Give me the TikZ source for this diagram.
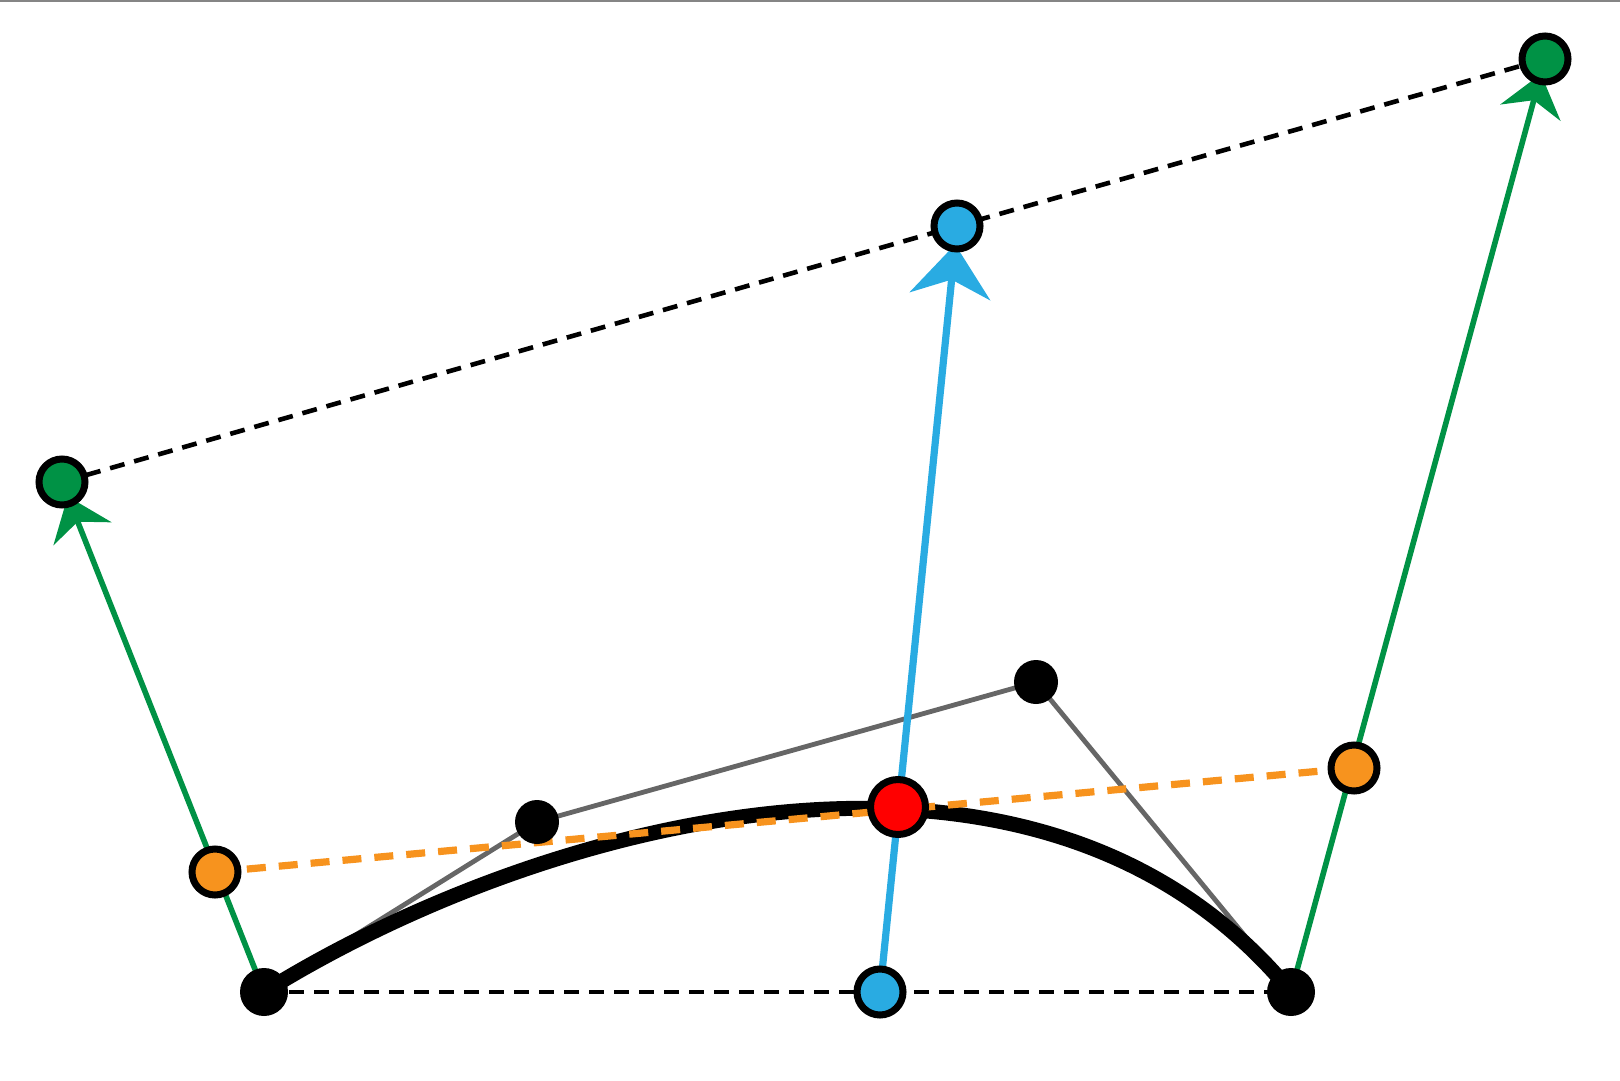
\documentclass[tikz,border=0pt]{standalone}
\usepackage{xcolor}
\usepackage{tikz}
\usetikzlibrary{arrows.meta,backgrounds}
\definecolor{hdlgreen}{HTML}{009245}
\definecolor{hdlblue}{HTML}{29ABE2}
\definecolor{midorange}{HTML}{F7931E}
\definecolor{polygray}{HTML}{666666}

\begin{document}
\begin{tikzpicture}[x=0.5pt, y=-0.5pt,
  dot/.style={circle, fill=black, inner sep=0pt, minimum size=#1},
  dot/.default=22pt,
  knob/.style={circle, draw=black, line width=3.5pt, fill=#1, inner sep=0pt, minimum size=23pt},
  guide/.style={dashed, dash pattern=on 7.5pt off 5pt, line width=2.3pt},
  a/.style={-{Stealth[length=#1, width=1.55*#1, inset=0.32*#1]}}]
\useasboundingbox (0,0) rectangle (1620,1080);
\draw[polygray!80, line width=1.2pt] (0,1) -- (1620,1);
% curve end points and handles
\node[dot=24pt] (P0) at (264,992) {};
\node[dot=22pt] (P1) at (537,822) {};
\node[dot=22pt] (P2) at (1036,682) {};
\node[dot=24pt] (P3) at (1291,992) {};
% point on the curve and its drag handles
\node[knob=hdlblue] (Bb) at (880,992) {};
\node[knob=midorange] (Ol) at (215,872) {};
\node[knob=midorange] (Or) at (1354,768) {};
\node[knob=hdlgreen] (Gl) at (62,482) {};
\node[knob=hdlgreen] (Gr) at (1545,59) {};
\node[knob=hdlblue] (Bt) at (957,226) {};
\node[circle, draw=black, line width=3.5pt, fill=red, inner sep=0pt, minimum size=27.5pt] (R) at (898,807) {};
\begin{scope}[on background layer]
\draw[guide] (P0.center) -- (Bb.center) -- (P3.center);
\draw[guide] (Gl.center) -- (Bt.center) -- (Gr.center);
\draw[polygray, line width=2.4pt] (P0.center) -- (P1.center) -- (P2.center) -- (P3.center);
\draw[line width=7.5pt] (P0.center) .. controls (P1.center) and (P2.center) .. (P3.center);
\draw[midorange, dashed, dash pattern=on 9.5pt off 6.5pt, line width=3.6pt] (Ol.center) -- (Or.center);
\draw[a=20pt, draw=hdlgreen, fill=hdlgreen, line width=2.8pt, shorten >=-5.5pt] (P0.center) -- (Gl);
\draw[a=20pt, draw=hdlgreen, fill=hdlgreen, line width=2.8pt, shorten >=-5.5pt] (P3.center) -- (Gr);
\draw[a=26pt, draw=hdlblue, fill=hdlblue, line width=3.6pt, shorten >=-4pt] (Bb.center) -- (Bt);
\end{scope}
\end{tikzpicture}
\end{document}
